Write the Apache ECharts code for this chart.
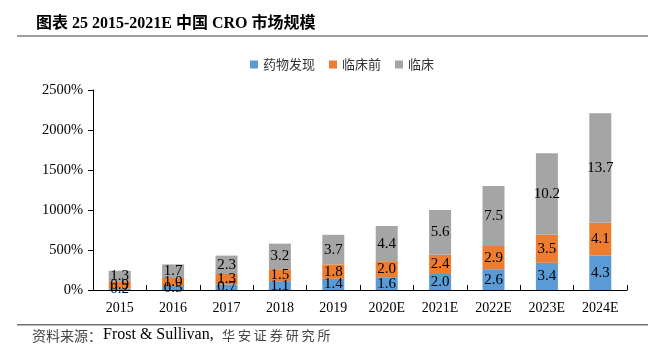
<!DOCTYPE html>
<html><head><meta charset="utf-8">
<script src="https://cdn.jsdelivr.net/npm/echarts@6/dist/echarts.min.js"></script>
<style>html,body{margin:0;padding:0;background:#fff;}#c{width:656px;height:356px;}</style>
</head><body><div id="c"></div>
<script>
const categories = ['2015','2016','2017','2018','2019','2020E','2021E','2022E','2023E','2024E'];
const drugDiscovery = [0.2,0.5,0.7,1.1,1.4,1.6,2.0,2.6,3.4,4.3];
const preclinical = [0.9,1.0,1.3,1.5,1.8,2.0,2.4,2.9,3.5,4.1];
const clinical = [1.3,1.7,2.3,3.2,3.7,4.4,5.6,7.5,10.2,13.7];
const seriesNames = ['药物发现','临床前','临床'];
const colors = ['#5B9BD5','#ED7D31','#A5A5A5'];
const serif = '"Liberation Serif","DejaVu Serif",serif';
const cjk = '"Noto Sans CJK SC",sans-serif';

const chart = echarts.init(document.getElementById('c'));
const mk = (name, data, color) => ({
  name, type:'bar', stack:'s', data, barWidth:22,
  itemStyle:{color},
  label:{show:true, position:'inside', formatter:p=>p.value.toFixed(1), color:'#000', fontFamily:serif, fontSize:15}
});
chart.setOption({
  animation:false,
  title:{text:'图表 25 2015-2021E 中国 CRO 市场规模', left:31, top:11,
    textStyle:{fontFamily:'"Liberation Serif","Noto Sans CJK SC",serif', fontWeight:'bold', fontSize:16, color:'#000'}},
  legend:{top:53, left:245, itemWidth:8, itemHeight:8, itemGap:14, icon:'rect',
    textStyle:{fontFamily:cjk, fontSize:13, color:'#333'}, data:seriesNames},
  grid:{left:93, right:29, top:90, bottom:66},
  xAxis:{type:'category', data:categories,
    axisLine:{lineStyle:{color:'#000', width:1}},
    axisTick:{show:true, inside:true, length:5, lineStyle:{color:'#000'}},
    axisLabel:{fontFamily:serif, fontSize:14, color:'#000', margin:11}},
  yAxis:{type:'value', min:0, max:25, interval:5,
    axisLine:{show:true, lineStyle:{color:'#000'}},
    axisTick:{show:true, length:5, lineStyle:{color:'#000'}},
    splitLine:{show:false},
    axisLabel:{fontFamily:serif, fontSize:14.5, color:'#000', margin:10, formatter:v=>(v*100)+'%'}},
  graphic:[
    {type:'rect', shape:{x:17,y:35,width:631,height:2}, style:{fill:'#a0a0a0'}},
    {type:'rect', shape:{x:17,y:324,width:631,height:1.5}, style:{fill:'#707070'}},
    {type:'text', left:32, top:329, style:{text:'资料来源：', fontFamily:cjk, fontSize:14, fill:'#444'}},
    {type:'text', left:103, top:327, style:{text:'Frost & Sullivan,', fontFamily:serif, fontSize:16, fill:'#000'}},
    {type:'text', left:222, top:329, style:{text:'华 安 证 券 研 究 所', fontFamily:cjk, fontSize:13, fill:'#444'}}
  ],
  series:[mk(seriesNames[0],drugDiscovery,colors[0]), mk(seriesNames[1],preclinical,colors[1]), mk(seriesNames[2],clinical,colors[2])]
});
</script></body></html>
